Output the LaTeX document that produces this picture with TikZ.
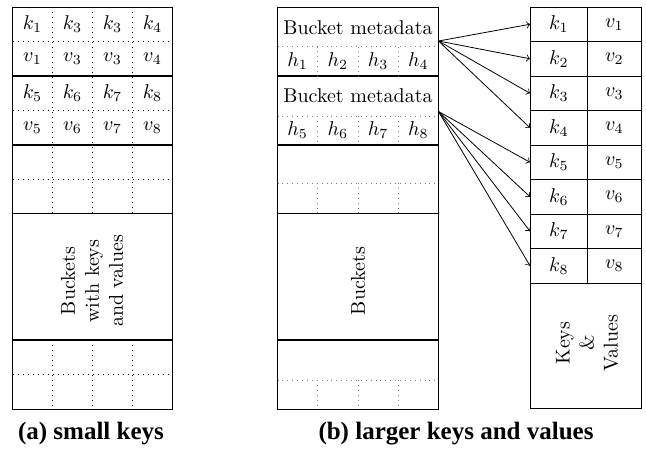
\documentclass[tikz,border=0pt]{standalone}
\usepackage{fontspec}
\newfontfamily\capfont{Liberation Serif}
\tikzset{
  abox/.style={line width=0.5pt},
  bucketline/.style={line width=0.9pt},
  slotline/.style={dotted, line width=0.5pt},
  hashline/.style={dotted, gray, line width=0.45pt},
  kvline/.style={line width=0.45pt},
  ptrline/.style={->, line width=0.4pt},
  captext/.style={anchor=base, font=\capfont\bfseries\fontsize{12.5}{15}\selectfont},
}
\begin{document}
\begin{tikzpicture}[x=0.5pt,y=-0.5pt]
    \useasboundingbox (0,0) rectangle (646,452);

    % (a) buckets holding keys and values
    \draw[abox] (12.5,7) rectangle (172.5,409);
    \draw[bucketline] (12.5,76) --(172.5,76);
    \draw[bucketline] (12.5,145) --(172.5,145);
    \draw[bucketline] (12.5,213.5) --(172.5,213.5);
    \draw[bucketline] (12.5,340) --(172.5,340);
    \draw[slotline] (12.5,41.5) --(172.5,41.5);
    \draw[slotline] (12.5,110.5) --(172.5,110.5);
    \draw[slotline] (12.5,179.5) --(172.5,179.5);
    \draw[slotline] (12.5,374.5) --(172.5,374.5);
    \draw[slotline] (52.5,7) --(52.5,213.5);
    \draw[slotline] (92.5,7) --(92.5,213.5);
    \draw[slotline] (132.5,7) --(132.5,213.5);
    \draw[slotline] (52.5,340) --(52.5,409);
    \draw[slotline] (92.5,340) --(92.5,409);
    \draw[slotline] (132.5,340) --(132.5,409);

    \path (32.5,24.25) node (ka1) {$k_1$};
    \path (72.5,24.25) node (ka2) {$k_3$};
    \path (112.5,24.25) node (ka3) {$k_3$};
    \path (152.5,24.25) node (ka4) {$k_4$};
    \path (32.5,58.75) node (va1) {$v_1$};
    \path (72.5,58.75) node (va2) {$v_3$};
    \path (112.5,58.75) node (va3) {$v_3$};
    \path (152.5,58.75) node (va4) {$v_4$};
    \path (32.5,93.25) node (ka5) {$k_5$};
    \path (72.5,93.25) node (ka6) {$k_6$};
    \path (112.5,93.25) node (ka7) {$k_7$};
    \path (152.5,93.25) node (ka8) {$k_8$};
    \path (32.5,127.75) node (va5) {$v_5$};
    \path (72.5,127.75) node (va6) {$v_6$};
    \path (112.5,127.75) node (va7) {$v_7$};
    \path (152.5,127.75) node (va8) {$v_8$};
    \path (92,281) node[rotate=90,align=center] (alabel) {Buckets\\with keys\\and values};
    \path (91,439) node[captext] (capa) {(a) small keys};

    % (b) buckets holding metadata and hashes
    \draw[abox] (277.5,7) rectangle (438.5,409);
    \draw[bucketline] (277.5,76) --(438.5,76);
    \draw[bucketline] (277.5,145) --(438.5,145);
    \draw[bucketline] (277.5,213.5) --(438.5,213.5);
    \draw[bucketline] (277.5,340) --(438.5,340);
    \draw[hashline] (277.5,46.5) --(438.5,46.5);
    \draw[hashline] (277.5,116) --(438.5,116);
    \draw[hashline] (277.5,183) --(438.5,183);
    \draw[hashline] (277.5,380) --(438.5,380);
    \foreach \yt/\yb in {46.5/76, 116/145, 183/213.5, 380/409} {
      \draw[hashline] (317.75,\yt) --(317.75,\yb);
      \draw[hashline] (358,\yt) --(358,\yb);
      \draw[hashline] (398.25,\yt) --(398.25,\yb);
    }

    \path (358,27.5) node (md1) {Bucket metadata};
    \path (297.6,61.25) node (h1) {$h_1$};
    \path (337.9,61.25) node (h2) {$h_2$};
    \path (378.1,61.25) node (h3) {$h_3$};
    \path (418.4,61.25) node (h4) {$h_4$};
    \path (358,96) node (md2) {Bucket metadata};
    \path (297.6,130.5) node (h5) {$h_5$};
    \path (337.9,130.5) node (h6) {$h_6$};
    \path (378.1,130.5) node (h7) {$h_7$};
    \path (418.4,130.5) node (h8) {$h_8$};
    \path (358,281) node[rotate=90] (blabel) {Buckets};
    \coordinate (md1out) at (438.5,41);
    \coordinate (md2out) at (438.5,111.5);

    % key/value store
    \draw[kvline] (530,7) rectangle (641,408.5);
    \draw[kvline] (587.7,7) --(587.7,283);
    \foreach \i in {1,...,8} {
      \draw[kvline] (530,7+34.5*\i) --(641,7+34.5*\i);
      \path (558.85,7+34.5*\i-17.25) node (kc\i) {$k_\i$};
      \path (614.35,7+34.5*\i-17.25) node (vc\i) {$v_\i$};
      \coordinate (kin\i) at (530,7+34.5*\i-17.25);
    }
    \path (587,343) node[rotate=90,align=center] (kvlabel) {Keys\\\&\\Values};

    \foreach \i in {1,...,4} \draw[ptrline] (md1out) --(kin\i);
    \foreach \i in {5,...,8} \draw[ptrline] (md2out) --(kin\i);

    \path (456,439) node[captext] (capb) {(b) larger keys and values};
  \end{tikzpicture}
\end{document}
